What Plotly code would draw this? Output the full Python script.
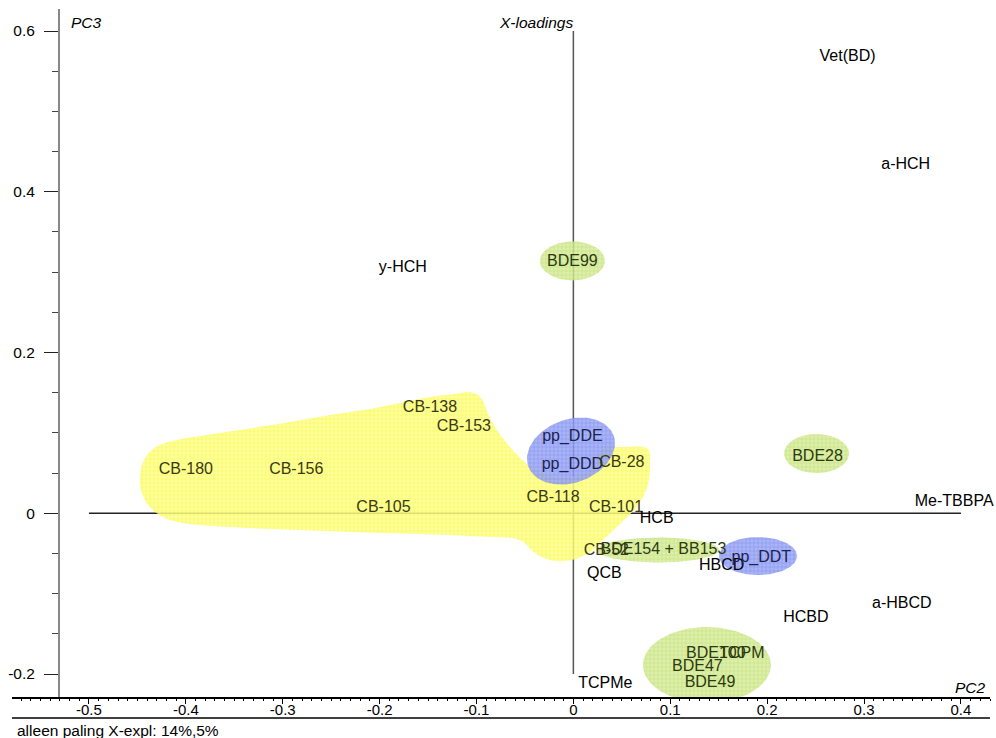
import numpy as np
import plotly.graph_objects as go

# ---------------- data ----------------
labels = ["Vet(BD)", "a-HCH", "y-HCH", "BDE99", "CB-138", "CB-153", "CB-180", "CB-156",
          "CB-105", "pp_DDE", "pp_DDD", "CB-28", "CB-118", "CB-101", "HCB", "CB-52",
          "BDE154 + BB153", "QCB", "HBCD", "pp_DDT", "BDE28", "Me-TBBPA", "a-HBCD", "HCBD",
          "BDE100", "TCPM", "BDE47", "BDE49", "TCPMe"]
pc2 = [0.283, 0.343, -0.176, -0.001, -0.148, -0.113, -0.400, -0.286,
       -0.196, -0.001, -0.001, 0.050, -0.021, 0.044, 0.086, 0.034,
       0.093, 0.032, 0.153, 0.194, 0.252, 0.393, 0.339, 0.240,
       0.147, 0.174, 0.128, 0.141, 0.033]
pc3 = [0.568, 0.433, 0.305, 0.313, 0.131, 0.107, 0.054, 0.054,
       0.007, 0.095, 0.060, 0.062, 0.019, 0.007, -0.007, -0.047,
       -0.046, -0.075, -0.065, -0.056, 0.070, 0.014, -0.113, -0.130,
       -0.175, -0.175, -0.191, -0.211, -0.212]
group = ["", "", "", "g", "y", "y", "y", "y",
         "y", "b", "b", "y", "y", "y", "", "y",
         "g", "", "", "b", "g", "", "", "",
         "g", "g", "g", "g", ""]

# yellow PCB region outline (PC2, PC3)
pcb_x = [-0.4473, -0.4442, -0.435, -0.4215, -0.3854, -0.3442, -0.2926, -0.2512, -0.2099,
         -0.179, -0.148, -0.1222, -0.1088, -0.0985, -0.0923, -0.0881, -0.0789, -0.0655, -0.0469,
         -0.0294, -0.0087, 0.0171, 0.0295, 0.0533, 0.0770, 0.0791, 0.077, 0.0667, 0.0502,
         0.0326, 0.0171, -0.0014, -0.0241, -0.0396, -0.0551, -0.0861, -0.1274, -0.1996,
         -0.2822, -0.3545, -0.3958, -0.4215, -0.439, -0.4463]
pcb_y = [0.0439, 0.0638, 0.0787, 0.0874, 0.0961, 0.1036, 0.1135, 0.1222, 0.1297,
         0.1372, 0.1446, 0.1484, 0.1508, 0.1471, 0.1372, 0.1235, 0.1036, 0.0824, 0.06,
         0.0488, 0.0439, 0.0538, 0.0787, 0.0824, 0.0799, 0.0600, 0.0351, 0.0103, -0.0109,
         -0.0308, -0.0482, -0.0581, -0.0581, -0.0494, -0.0333, -0.0296, -0.0271, -0.0246,
         -0.0209, -0.0171, -0.0134, -0.006, 0.0103, 0.0289]

# group ellipses: centre (PC2, PC3), colour group
ell_cx = [-0.0025, 0.1905, -0.001, 0.251, 0.0874, 0.1378]
ell_cy = [0.0774, -0.0532, 0.314, 0.0743, -0.0457, -0.1888]
ell_grp = ["b", "b", "g", "g", "g", "g"]

x_ticks = [-0.5, -0.4, -0.3, -0.2, -0.1, 0, 0.1, 0.2, 0.3, 0.4]
x_ticktext = ["-0.5", "-0.4", "-0.3", "-0.2", "-0.1", "0", "0.1", "0.2", "0.3", "0.4"]
y_ticks = [-0.2, 0, 0.2, 0.4, 0.6]
y_ticktext = ["-0.2", "0", "0.2", "0.4", "0.6"]

# cross lines through origin
cross_h = [-0.5, 0.4]
cross_v = [-0.2, 0.6]

# ---------------- styling ----------------
FONT = "Liberation Sans, Arial, sans-serif"
SX, SY = 968.9, 803.75  # px per unit (for round ellipse shapes)
ell_size = [(45.4, 31.6, 20), (39, 19, 0), (32.5, 19.5, 0), (32.5, 19.5, 0), (61, 12.5, 0), (64, 38, 0)]
styles = {
    "y": dict(bg="#ffff8c", fg="#f0f000", txt="#3a3a10"),
    "b": dict(bg="#9aa8f5", fg="#5466e6", txt="#1c2250"),
    "g": dict(bg="#d8ed9c", fg="#a4cc3c", txt="#2c3a10"),
    "": dict(txt="#000000"),
}

fig = go.Figure()

# reference lines through origin
fig.add_trace(go.Scatter(x=cross_h, y=[0, 0], mode="lines",
                         line=dict(color="#222222", width=1.5), hoverinfo="skip"))
fig.add_trace(go.Scatter(x=[0, 0], y=cross_v, mode="lines",
                         line=dict(color="#555555", width=1.5), hoverinfo="skip"))

# yellow region
st = styles["y"]
fig.add_trace(go.Scatter(
    x=pcb_x + [pcb_x[0]], y=pcb_y + [pcb_y[0]], mode="lines", fill="toself",
    line=dict(width=0.1, color="rgba(0,0,0,0)", shape="spline", smoothing=1.0),
    fillcolor=st["bg"],
    fillpattern=dict(shape="+", bgcolor=st["bg"], fgcolor=st["fg"], size=4, solidity=0.3),
    opacity=0.85, hoverinfo="skip"))

# ellipses
t = np.linspace(0, 2 * np.pi, 120)
for cx, cy, g, (rx, ry, ang) in zip(ell_cx, ell_cy, ell_grp, ell_size):
    a = np.deg2rad(ang)
    dxp = rx * np.cos(t) * np.cos(a) - ry * np.sin(t) * np.sin(a)
    dyp = rx * np.cos(t) * np.sin(a) + ry * np.sin(t) * np.cos(a)
    st = styles[g]
    fig.add_trace(go.Scatter(
        x=cx + dxp / SX, y=cy + dyp / SY, mode="lines", fill="toself",
        line=dict(width=0, color="rgba(0,0,0,0)"), fillcolor=st["bg"],
        fillpattern=dict(shape="+", bgcolor=st["bg"], fgcolor=st["fg"], size=4, solidity=0.3),
        opacity=0.85, hoverinfo="skip"))

# labels
fig.add_trace(go.Scatter(
    x=pc2, y=pc3, mode="text", text=labels, textposition="middle center",
    textfont=dict(family=FONT, size=16, color=[styles[g]["txt"] for g in group]),
    cliponaxis=False, hoverinfo="skip"))

TF = dict(family=FONT, size=15.5, color="#000")
annotations = [
    dict(text="<i>PC3</i>", xref="paper", yref="paper", x=0.0583, y=0.9797,
         xanchor="left", yanchor="middle", showarrow=False, font=TF),
    dict(text="<i>X-loadings</i>", xref="paper", yref="paper", x=0.4959, y=0.9797,
         xanchor="left", yanchor="middle", showarrow=False, font=TF),
    dict(text="<i>PC2</i>", xref="paper", yref="paper", x=0.9622, y=0.0131,
         xanchor="left", yanchor="middle", showarrow=False, font=TF),
    dict(text="alleen paling X-expl: 14%,5%", xref="paper", yref="paper", x=0.003, y=-0.048,
         xanchor="left", yanchor="middle", showarrow=False, font=TF),
]

shapes = [
    dict(type="rect", xref="paper", yref="paper", x0=-0.02, x1=1.01, y0=-0.0305, y1=-0.07,
         fillcolor="white", line=dict(width=0), layer="above"),
    dict(type="line", xref="paper", yref="paper", x0=0.0, x1=1.0, y0=-0.0305, y1=-0.0305,
         line=dict(color="#000", width=1.5), layer="above"),
]

fig.update_layout(
    width=996, height=738,
    margin=dict(l=12, r=6, t=9, b=41),
    paper_bgcolor="white", plot_bgcolor="white",
    showlegend=False,
    annotations=annotations, shapes=shapes,
    xaxis=dict(range=[-0.5794, 0.43], showgrid=False, zeroline=False,
               showline=True, linecolor="#000", linewidth=1.5,
               tickmode="array", tickvals=x_ticks, ticktext=x_ticktext,
               ticks="outside", ticklen=5, tickcolor="#000", tickwidth=1,
               ticklabelstandoff=-7,
               tickfont=dict(family=FONT, size=15, color="#000"),
               minor=dict(dtick=0.01, ticks="outside", ticklen=2, tickcolor="#000", tickwidth=1),
               fixedrange=True),
    yaxis=dict(range=[-0.2286, 0.6274], showgrid=False, zeroline=False,
               anchor="free", position=0.048,
               showline=True, linecolor="#888", linewidth=2,
               tickmode="array", tickvals=y_ticks, ticktext=y_ticktext,
               ticks="outside", ticklen=14, tickcolor="#222", tickwidth=1,
               ticklabelstandoff=6,
               tickfont=dict(family=FONT, size=15.5, color="#000"),
               minor=dict(dtick=0.05, tick0=0, ticks="outside", ticklen=6, tickcolor="#444", tickwidth=1),
               fixedrange=True),
)

fig.write_html("out.html")
